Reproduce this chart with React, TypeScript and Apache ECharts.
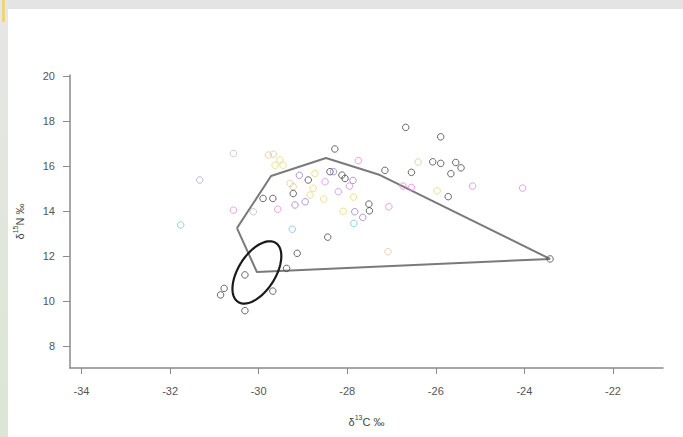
import React, { useEffect, useRef } from "react";
import * as echarts from "echarts";

// Tick labels
const xTicks = [-34, -32, -30, -28, -26, -24, -22];
const yTicks = [8, 10, 12, 14, 16, 18, 20];

// Convex hull vertices (δ13C, δ15N)
const hullPts: number[][] = [
  [-30.49, 13.24],
  [-29.72, 15.56],
  [-28.48, 16.36],
  [-27.26, 15.6],
  [-23.42, 11.87],
  [-30.04, 11.29],
  [-30.49, 13.24],
];

// Standard ellipse: centre and two semi-axis vectors (data units)
const ellipseCentre = [-30.04, 11.27];
const ellipseAxisA = [0.424, 1.314];
const ellipseAxisB = [0.353, -0.442];

// Sample groups
const blackPts: number[][] = [
  [-26.68, 17.72], [-28.28, 16.76], [-25.89, 17.3], [-26.07, 16.19], [-25.89, 16.12],
  [-25.55, 16.16], [-25.43, 15.92], [-27.15, 15.81], [-26.55, 15.72], [-25.66, 15.66],
  [-25.72, 14.64], [-28.88, 15.38], [-28.39, 15.75], [-28.12, 15.6], [-28.05, 15.45],
  [-29.22, 14.78], [-29.9, 14.56], [-29.68, 14.56], [-27.51, 14.31], [-27.5, 14.01],
  [-28.44, 12.84], [-29.13, 12.12], [-29.37, 11.45], [-30.31, 11.16], [-30.78, 10.56],
  [-30.86, 10.27], [-29.68, 10.44], [-30.31, 9.57], [-23.42, 11.87],
];
const purplePts: number[][] = [
  [-29.08, 15.59], [-28.31, 15.75], [-27.87, 15.36], [-27.83, 13.97], [-27.65, 13.72],
  [-28.95, 14.41], [-29.18, 14.27],
];
const lightPurplePts: number[][] = [[-31.33, 15.38]];
const pinkPts: number[][] = [
  [-27.75, 16.24], [-28.5, 15.3], [-27.95, 15.11], [-28.2, 14.86], [-26.74, 15.11],
  [-26.55, 15.05], [-25.17, 15.11], [-24.04, 15.02], [-29.57, 14.08], [-30.57, 14.04],
  [-27.06, 14.19],
];
const yellowPts: number[][] = [
  [-29.52, 16.27], [-29.45, 16.04], [-28.73, 15.67], [-28.77, 15.01], [-28.84, 14.71],
  [-28.53, 14.53], [-27.86, 14.62], [-28.09, 13.99], [-25.97, 14.9], [-29.63, 16.04],
];
const tanPts: number[][] = [
  [-29.29, 15.23], [-29.22, 15.08], [-29.78, 16.49], [-29.67, 16.53], [-27.08, 12.19],
];
const greyPts: number[][] = [[-30.57, 16.56], [-30.12, 13.97]];
const greenPts: number[][] = [[-26.4, 16.18]];
const bluePts: number[][] = [[-31.76, 13.38], [-29.24, 13.19], [-27.85, 13.45]];

const FONT = "'Liberation Sans', Arial, sans-serif";

function ellipsePoints(): number[][] {
  const out: number[][] = [];
  const n = 90;
  for (let i = 0; i <= n; i++) {
    const t = (i / n) * Math.PI * 2;
    out.push([
      ellipseCentre[0] + Math.cos(t) * ellipseAxisA[0] + Math.sin(t) * ellipseAxisB[0],
      ellipseCentre[1] + Math.cos(t) * ellipseAxisA[1] + Math.sin(t) * ellipseAxisB[1],
    ]);
  }
  return out;
}

function scatter(data: number[][], color: string) {
  return {
    type: "scatter",
    data,
    symbol: "circle",
    symbolSize: 6.5,
    itemStyle: { color: "rgba(255,255,255,0)", borderColor: color, borderWidth: 1 },
    z: 3,
  };
}

export default function App() {
  const ref = useRef<HTMLDivElement>(null);
  useEffect(() => {
    const chart = echarts.init(ref.current!, null, { renderer: "svg" });
    const option: any = {
      animation: false,
      backgroundColor: "#ffffff",
      graphic: [
        { type: "rect", shape: { x: 0, y: 0, width: 683, height: 9 }, style: { fill: "#e4e4e4" }, z: -10 },
        {
          type: "rect",
          shape: { x: 0, y: 0, width: 8, height: 437 },
          style: {
            fill: new echarts.graphic.LinearGradient(0, 0, 0, 1, [
              { offset: 0, color: "#e6e6e6" },
              { offset: 1, color: "#dce6d4" },
            ]),
          },
          z: -10,
        },
        { type: "rect", shape: { x: 2, y: 0, width: 3, height: 22 }, style: { fill: "#f0d47a" }, z: -9 },
      ],
      grid: { left: 70, right: 20, top: 75, bottom: 69, containLabel: false },
      xAxis: {
        type: "value",
        min: -34.26,
        max: -20.87,
        axisLine: { show: true, onZero: false, lineStyle: { color: "#8a8a8a", width: 1.5 } },
        axisTick: { show: true, customValues: xTicks, length: 6, lineStyle: { color: "#8a8a8a", width: 1 } },
        axisLabel: { customValues: xTicks, margin: 17, fontSize: 11, color: "#555", fontFamily: FONT },
        splitLine: { show: false },
        name: "{d|δ}{s|13}{d|C ‰}",
        nameLocation: "middle",
        nameGap: 46,
        nameTextStyle: {
          rich: {
            d: { fontSize: 11, color: "#444", fontFamily: FONT, lineHeight: 16 },
            s: { fontSize: 7, color: "#444", fontFamily: FONT, lineHeight: 10, verticalAlign: "top" },
          },
        },
      },
      yAxis: {
        type: "value",
        min: 7.02,
        max: 20.05,
        axisLine: { show: true, onZero: false, lineStyle: { color: "#8a8a8a", width: 1.5 } },
        axisTick: { show: true, customValues: yTicks, length: 7, lineStyle: { color: "#8a8a8a", width: 1 } },
        axisLabel: { customValues: yTicks, margin: 15, fontSize: 11, color: "#555", fontFamily: FONT },
        splitLine: { show: false },
        name: "{d|δ}{s|15}{d|N ‰}",
        nameLocation: "middle",
        nameGap: 42,
        nameRotate: 90,
        nameTextStyle: {
          rich: {
            d: { fontSize: 11, color: "#444", fontFamily: FONT, lineHeight: 16 },
            s: { fontSize: 7, color: "#444", fontFamily: FONT, lineHeight: 10, verticalAlign: "top" },
          },
        },
      },
      series: [
        {
          type: "line",
          data: hullPts,
          symbol: "none",
          lineStyle: { color: "#7a7a7a", width: 2 },
          z: 2,
        },
        {
          type: "line",
          data: ellipsePoints(),
          symbol: "none",
          smooth: false,
          lineStyle: { color: "#1a1a1a", width: 2.2 },
          z: 4,
        },
        scatter(greyPts, "#c8bcc4"),
        scatter(greenPts, "#bcd0a4"),
        scatter(tanPts, "#dcc89c"),
        scatter(yellowPts, "#e6d870"),
        scatter(bluePts, "#78c0ea"),
        scatter(lightPurplePts, "#b8a0c4"),
        scatter(pinkPts, "#e088e0"),
        scatter(purplePts, "#a07ad0"),
        scatter(blackPts, "#444444"),
      ],
    };
    chart.setOption(option);
    return () => chart.dispose();
  }, []);
  return (
    <div
      ref={ref}
      style={{ position: "fixed", left: 0, top: 0, width: 683, height: 437, background: "#fff" }}
    />
  );
}
